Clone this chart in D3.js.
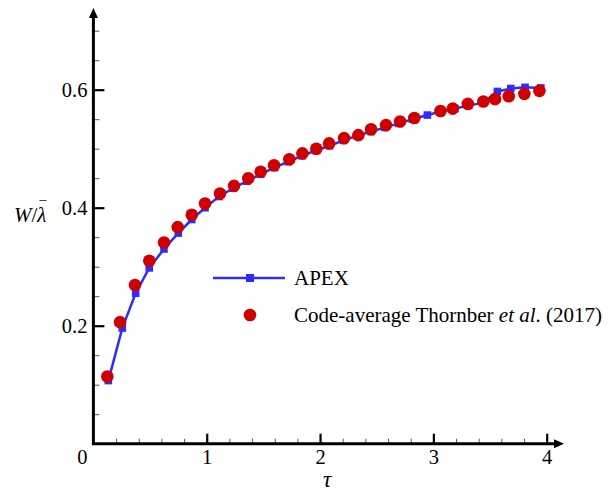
<!DOCTYPE html>
<html><head><meta charset="utf-8">
<script src="https://cdn.jsdelivr.net/npm/d3@7"></script>
<style>
html,body{margin:0;padding:0;background:#fff;}
svg{display:block;font-family:"Liberation Serif","Times New Roman",serif;}
</style></head>
<body>
<svg id="c" width="608" height="494"></svg>
<script>
// ---- data ----
const apexTau = [0.132,0.255,0.373,0.493,0.623,0.749,0.868,0.985,1.109,1.232,1.354,1.476,1.598,1.719,1.841,1.963,2.085,2.207,2.328,2.450,2.572,2.694,2.816,2.947,3.068,3.190,3.312,3.439,3.565,3.683,3.809,3.948];
const apexW   = [0.107,0.196,0.255,0.298,0.330,0.357,0.380,0.400,0.419,0.433,0.445,0.457,0.468,0.478,0.488,0.497,0.505,0.514,0.522,0.529,0.536,0.543,0.550,0.557,0.563,0.568,0.573,0.578,0.597,0.602,0.604,0.603];
const refTau  = [0.123,0.235,0.367,0.493,0.623,0.744,0.868,0.985,1.117,1.241,1.367,1.476,1.594,1.729,1.844,1.967,2.080,2.212,2.338,2.450,2.582,2.706,2.832,3.063,3.171,3.304,3.441,3.544,3.665,3.803,3.936];
const refW    = [0.114,0.206,0.269,0.310,0.341,0.367,0.388,0.407,0.424,0.437,0.450,0.461,0.472,0.482,0.492,0.500,0.509,0.518,0.523,0.533,0.540,0.546,0.552,0.564,0.568,0.576,0.580,0.584,0.589,0.593,0.598];
const xTicks = [1,2,3,4];
const yTicks = [0.2,0.4,0.6];
const xMinor = [0.2,0.4,0.6,0.8,1.2,1.4,1.6,1.8,2.2,2.4,2.6,2.8,3.2,3.4,3.6,3.8];
const yMinor = [0.05,0.1,0.15,0.25,0.3,0.35,0.45,0.5,0.55,0.65,0.7];
const seriesNames = ["APEX","Code-average Thornber "];

const FONT = "'Liberation Serif','Times New Roman',serif";
const svg = d3.select("#c");
const x = d3.scaleLinear().domain([0,4]).range([93.4,546.7]);
const y = d3.scaleLinear().domain([0,0.6]).range([443.7,89.7]);
const BLUE = "#2d2dff", RED = "#d00000";

// minor ticks
const gxm = svg.append("g").attr("transform","translate(0,"+y(0)+")")
  .call(d3.axisBottom(x).tickValues(xMinor).tickSize(-5).tickFormat(""));
const gym = svg.append("g").attr("transform","translate("+x(0)+",0)")
  .call(d3.axisLeft(y).tickValues(yMinor).tickSize(-6).tickFormat(""));
[gxm,gym].forEach(g=>{g.select(".domain").remove();g.selectAll("line").attr("stroke","#555").attr("stroke-width",1);});

// major ticks
const gx = svg.append("g").attr("transform","translate(0,"+y(0)+")")
  .call(d3.axisBottom(x).tickValues(xTicks).tickSize(-10).tickPadding(6).tickFormat(d3.format("d")));
const gy = svg.append("g").attr("transform","translate("+x(0)+",0)")
  .call(d3.axisLeft(y).tickValues(yTicks).tickSize(-11).tickPadding(6).tickFormat(d3.format(".1f")));
[gx,gy].forEach(g=>{
  g.attr("font-family",FONT);
  g.select(".domain").remove();
  g.selectAll("line").attr("stroke","#000").attr("stroke-width",2.2);
  g.selectAll("text").attr("font-family",FONT).attr("font-size",20.5).attr("fill","#000");
});
svg.append("text").attr("x",x(0)-11).attr("y",464).attr("text-anchor","middle")
  .attr("font-size",20.5).text("0");

// axis lines with arrows
const x0 = x(0), y0 = y(0);
svg.append("path").attr("d",`M${x0},${y0}H556 M${x0},${y0}V16`).attr("stroke","#000").attr("stroke-width",3).attr("fill","none").attr("stroke-linecap","square");
svg.append("path").attr("d",`M564,${y0} L554,${y0-4.5} L554,${y0+4.5} Z`).attr("fill","#000");
svg.append("path").attr("d",`M${x0},8 L${x0-4.5},18 L${x0+4.5},18 Z`).attr("fill","#000");

// APEX line
svg.append("path").datum(apexTau.map((t,i)=>[t,apexW[i]]))
  .attr("d",d3.line().x(d=>x(d[0])).y(d=>y(d[1])))
  .attr("fill","none").attr("stroke",BLUE).attr("stroke-width",2.5);
svg.append("g").selectAll("rect").data(apexTau.map((t,i)=>[t,apexW[i]])).join("rect")
  .attr("x",d=>x(d[0])-3.8).attr("y",d=>y(d[1])-3.8).attr("width",7.6).attr("height",7.6).attr("fill",BLUE);

// reference circles
svg.append("g").selectAll("circle").data(refTau.map((t,i)=>[t,refW[i]])).join("circle")
  .attr("cx",d=>x(d[0])).attr("cy",d=>y(d[1])).attr("r",6.3).attr("fill",RED);

// legend
svg.append("line").attr("x1",213).attr("x2",285).attr("y1",278).attr("y2",278).attr("stroke",BLUE).attr("stroke-width",2.5);
svg.append("rect").attr("x",246).attr("y",274).attr("width",8).attr("height",8).attr("fill",BLUE);
svg.append("text").attr("x",294).attr("y",284.5).attr("font-size",21).text(seriesNames[0]);
svg.append("circle").attr("cx",250).attr("cy",315).attr("r",6.3).attr("fill",RED);
const t2 = svg.append("text").attr("x",294).attr("y",321.5).attr("font-size",21);
t2.append("tspan").text(seriesNames[1]);
t2.append("tspan").attr("font-style","italic").text("et al");
t2.append("tspan").text(". (2017)");

// axis titles
svg.append("text").attr("x",327).attr("y",487).attr("text-anchor","middle")
  .attr("font-size",23).attr("font-style","italic").text("τ");
const yl = svg.append("text").attr("x",14).attr("y",222).attr("font-size",21);
yl.append("tspan").attr("font-style","italic").text("W");
yl.append("tspan").text("/");
yl.append("tspan").attr("font-style","italic").text("λ");
yl.append("tspan").attr("dx",-7).attr("dy",-11).attr("font-size",14).text("¯");
</script>
</body></html>
